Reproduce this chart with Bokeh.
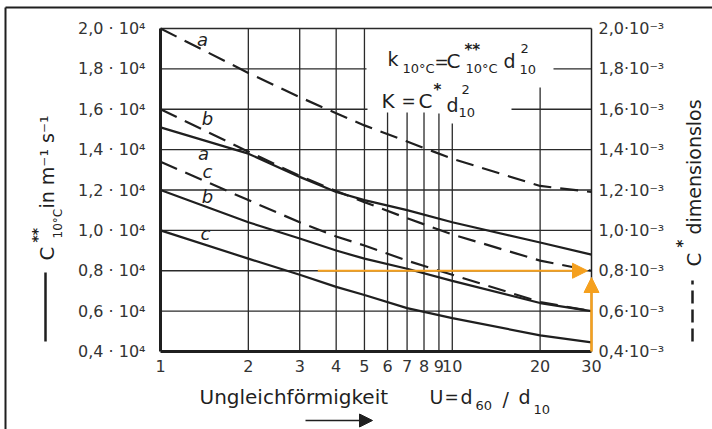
import math
from bokeh.plotting import figure
from bokeh.models import (LinearAxis, FixedTicker, CustomJSTickFormatter, Label,
                          Arrow, NormalHead, Range1d)
from bokeh.embed import file_html
from bokeh.resources import INLINE

# ---------------- data ----------------
U = [1, 2, 3, 4, 5, 7, 10, 20, 30]                       # Ungleichförmigkeit U = d60/d10
C2_a = [1.51, 1.38, 1.265, 1.19, 1.15, 1.10, 1.04, 0.94, 0.88]    # C**10°C (x10^4), solid
C2_b = [1.20, 1.04, 0.96, 0.90, 0.86, 0.81, 0.75, 0.64, 0.60]
C2_c = [1.00, 0.86, 0.78, 0.72, 0.68, 0.615, 0.565, 0.48, 0.445]
C1_a = [2.00, 1.78, 1.66, 1.58, 1.52, 1.44, 1.355, 1.22, 1.19]     # C* (x10^-3), dashed
C1_b = [1.60, 1.39, 1.27, 1.195, 1.14, 1.06, 0.98, 0.85, 0.80]
C1_c = [1.34, 1.15, 1.04, 0.97, 0.925, 0.85, 0.78, 0.645, 0.60]
X_TICKS = [1, 2, 3, 4, 5, 6, 7, 8, 9, 10, 20, 30]
Y_TICKS = [0.4, 0.6, 0.8, 1.0, 1.2, 1.4, 1.6, 1.8, 2.0]
EXAMPLE_U = [3.46, 30]      # orange reading example: U = 30 -> C* = 0.8e-3
EXAMPLE_C = 0.8

# ---------------- style / geometry ----------------
FONT = "DejaVu Sans"
INK = "#1f1f1f"
GRID = "#2a2a2a"
ORANGE = "#F5A01E"
DASH = "18 9"

W, H = 712, 429
X_LO, X_HI = 1, 30
Y_LO, Y_HI = 0.4, 2.0
PX_L, PX_R, PY_B, PY_T = 160, 591, 351, 28       # where the chart box sits on the canvas
PXDEC = (PX_R - PX_L) / math.log10(X_HI / X_LO)
YPP = (Y_HI - Y_LO) / (PY_B - PY_T)

def dx(px):
    return X_LO * 10 ** ((px - PX_L) / PXDEC)

def dy(py):
    return Y_LO + (PY_B - py) * YPP

p = figure(width=W, height=H, x_axis_type="log",
           x_range=Range1d(dx(0), dx(W)), y_range=Range1d(dy(H), dy(0)),
           output_backend="svg", toolbar_location=None,
           min_border=0, min_border_left=0, min_border_right=0,
           min_border_top=0, min_border_bottom=0)
p.xgrid.visible = False
p.ygrid.visible = False
p.outline_line_color = None
p.background_fill_color = "white"
p.border_fill_color = "white"

def style_axis(ax, width, standoff, size):
    ax.axis_line_color = INK
    ax.axis_line_width = width
    ax.major_tick_in = 0
    ax.major_tick_out = 0
    ax.minor_tick_in = 0
    ax.minor_tick_out = 0
    ax.major_label_standoff = standoff
    ax.major_label_text_font = FONT
    ax.major_label_text_font_size = size
    ax.major_label_text_color = "#333333"

yl = p.yaxis[0]
yl.fixed_location = X_LO
yl.bounds = (Y_LO, Y_HI)
yl.ticker = FixedTicker(ticks=Y_TICKS)
yl.formatter = CustomJSTickFormatter(code="return tick.toFixed(1).replace('.', ',') + ' · 10⁴'")
style_axis(yl, 3, 15, "16px")

yr = LinearAxis(ticker=FixedTicker(ticks=Y_TICKS), fixed_location=X_HI, bounds=(Y_LO, Y_HI),
                formatter=CustomJSTickFormatter(code="return tick.toFixed(1).replace('.', ',') + '·10⁻³'"))
style_axis(yr, 1.5, 7, "16px")
p.add_layout(yr, "right")

xa = p.xaxis[0]
xa.fixed_location = Y_LO
xa.bounds = (X_LO, X_HI)
xa.ticker = FixedTicker(ticks=X_TICKS)
xa.formatter = CustomJSTickFormatter(code="return String(Math.round(tick))")
style_axis(xa, 3, 8, "16px")

# ---------------- grid (partly broken around the formulas) ----------------
hx0, hy0, hx1, hy1 = [], [], [], []
for y in [t for t in Y_TICKS if Y_LO < t < 1.5]:
    hx0.append(X_LO); hx1.append(X_HI); hy0.append(y); hy1.append(y)
for (a, b, y) in [(X_LO, dx(366), 1.8), (dx(553), X_HI, 1.8),
                  (X_LO, dx(367), 1.6), (dx(511), X_HI, 1.6),
                  (X_LO, X_HI, Y_HI)]:
    hx0.append(a); hx1.append(b); hy0.append(y); hy1.append(y)
p.segment(hx0, hy0, hx1, hy1, line_color=GRID, line_width=1.3)

v_top = {2: Y_HI, 3: Y_HI, 4: Y_HI, 5: Y_HI, 6: dy(112), 7: dy(112), 8: dy(112), 9: dy(113),
         10: dy(123), 20: dy(87)}
vx = [t for t in X_TICKS if t in v_top]
p.segment(vx, [Y_LO] * len(vx), vx, [v_top[t] for t in vx], line_color=GRID, line_width=1.3)

# ---------------- curves ----------------
for ys in (C2_a, C2_b, C2_c):
    p.line(U, ys, line_color=INK, line_width=2.2)
for ys in (C1_a, C1_b, C1_c):
    p.line(U, ys, line_color=INK, line_width=2.2, line_dash=DASH)

def lab(text, px, py, size, angle=0, align="left", baseline="middle", style="normal", color=INK):
    p.add_layout(Label(x=dx(px), y=dy(py), text=text, text_font=FONT,
                       text_font_size=f"{size}px", text_color=color,
                       angle=angle, angle_units="deg", text_align=align,
                       text_baseline=baseline, text_font_style=style))

def line_ann(px0, py0, px1, py1, width, dash="solid", color=INK, head=None):
    p.add_layout(Arrow(x_start=dx(px0), y_start=dy(py0), x_end=dx(px1), y_end=dy(py1),
                       end=head, line_color=color, line_width=width, line_dash=dash))

# curve letters
for t, px, py in [("a", 202, 39), ("b", 207, 118), ("a", 203, 153),
                  ("c", 207, 171), ("b", 207, 196), ("c", 205, 233)]:
    lab(t, px, py, 18, align="center", style="italic")

# formulas
lab("k", 387, 58, 19)
lab("10°C", 402, 68, 13)
lab("=", 434, 61, 17)
lab("C", 446, 60, 20)
lab("**", 464, 49, 15, style="bold")
lab("10°C", 465, 68, 13)
lab("d", 503, 60, 19)
lab("2", 520, 48, 13)
lab("10", 519, 69, 13)

lab("K", 381, 100, 20)
lab("=", 401, 100, 17)
lab("C", 418, 100, 20)
lab("*", 433, 89, 15, style="bold")
lab("d", 446, 104, 19)
lab("2", 461, 89, 13)
lab("10", 458, 112, 13)

# left axis title (rotated)
line_ann(45, 341, 45, 272, 2.5)
lab("C", 46, 260, 20, angle=90)
lab("**", 36, 242, 14, angle=90, style="bold")
lab("10°C", 57, 238, 12, angle=90)
lab("in  m⁻¹ s⁻¹", 46, 208, 19, angle=90)

# right axis title (rotated)
line_ann(692, 341, 692, 280, 2.5, dash="13 6")
lab("C", 693, 266, 20, angle=90)
lab("*", 682, 247, 15, angle=90, style="bold")
lab("dimensionslos", 693, 234, 19, angle=90)

# x axis title
lab("Ungleichförmigkeit", 199, 396, 20)
lab("U", 429, 396, 19)
lab("=", 444, 396, 17)
lab("d", 460, 396, 19)
lab("60", 475, 405, 13)
lab("/", 502, 398, 19)
lab("d", 518, 396, 19)
lab("10", 533, 409, 13)
line_ann(305, 420, 372, 420, 1.5, head=NormalHead(size=13, fill_color=INK, line_color=INK))

# page border (top and left)
line_ann(5, 7, W, 7, 2)
line_ann(5, 7, 5, H, 2)

# orange reading example
p.add_layout(Arrow(x_start=EXAMPLE_U[0], y_start=EXAMPLE_C, x_end=dx(587), y_end=EXAMPLE_C,
                   line_color=ORANGE, line_width=2,
                   end=NormalHead(size=15, fill_color=ORANGE, line_color=ORANGE)))
p.add_layout(Arrow(x_start=EXAMPLE_U[1], y_start=Y_LO, x_end=EXAMPLE_U[1], y_end=dy(277),
                   line_color=ORANGE, line_width=2.5,
                   end=NormalHead(size=15, fill_color=ORANGE, line_color=ORANGE)))

open("out.html", "w").write(file_html(p, INLINE))
